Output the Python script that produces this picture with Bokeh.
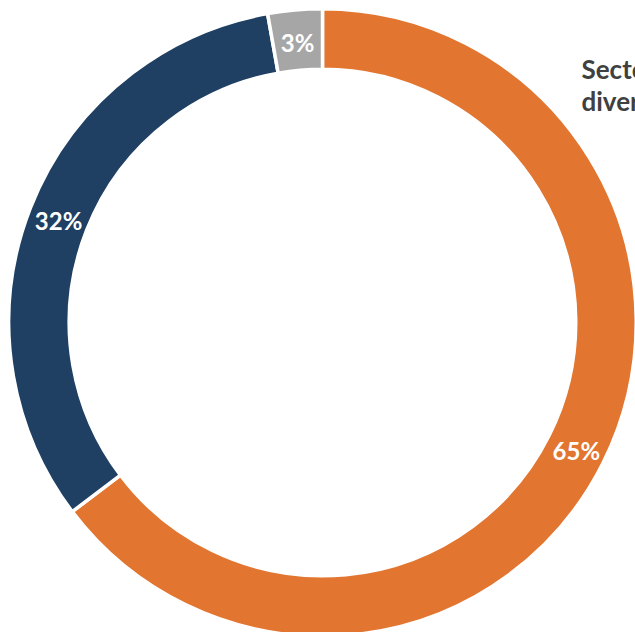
import math
from bokeh.plotting import figure
from bokeh.models import Range1d, ColumnDataSource
from bokeh.core.properties import value
from bokeh.embed import file_html
from bokeh.resources import INLINE

# Data
categories = ["Orange segment", "Navy segment", "Grey segment"]
shares = [64.7, 32.5, 2.8]
labels = ["65%", "32%", "3%"]
colors = ["#E27530", "#1F4063", "#A6A6A6"]
title_lines = ["Sector", "diversification"]

total = sum(shares)
starts, ends, mids = [], [], []
acc = 0.0
for s in shares:
    a0 = math.pi / 2 - 2 * math.pi * acc / total
    acc += s
    a1 = math.pi / 2 - 2 * math.pi * acc / total
    starts.append(a0)
    ends.append(a1)
    mids.append((a0 + a1) / 2)

r_in, r_out = 255, 312
r_lab = (r_in + r_out) / 2
lx = [r_lab * math.cos(m) for m in mids]
ly = [r_lab * math.sin(m) - 2 for m in mids]

src = ColumnDataSource(dict(cat=categories, start=starts, end=ends, color=colors,
                            lx=lx, ly=ly, label=labels))

p = figure(width=635, height=632, output_backend="svg", toolbar_location=None,
           x_range=Range1d(-322, 313), y_range=Range1d(-310, 322),
           min_border=0, outline_line_color=None)
p.axis.visible = False
p.grid.visible = False
p.background_fill_color = "white"
p.border_fill_color = "white"

lw = 3.5
p.annular_wedge(x=0, y=0, inner_radius=r_in - lw / 2, outer_radius=r_out + lw / 2,
                start_angle="start", end_angle="end", direction="clock",
                fill_color="color", line_color="white", line_width=lw, source=src)

p.text(x="lx", y="ly", text="label", source=src, text_color="white",
       text_font=value("Lato"), text_font_style="bold", text_font_size="24px",
       text_align="center", text_baseline="middle")

p.text(x=[259, 259], y=[254, 222], text=title_lines, text_color="#404040",
       text_font=value("Lato"), text_font_style="bold", text_font_size="26px",
       text_align="left", text_baseline="alphabetic")

open("out.html", "w").write(file_html(p, INLINE))
